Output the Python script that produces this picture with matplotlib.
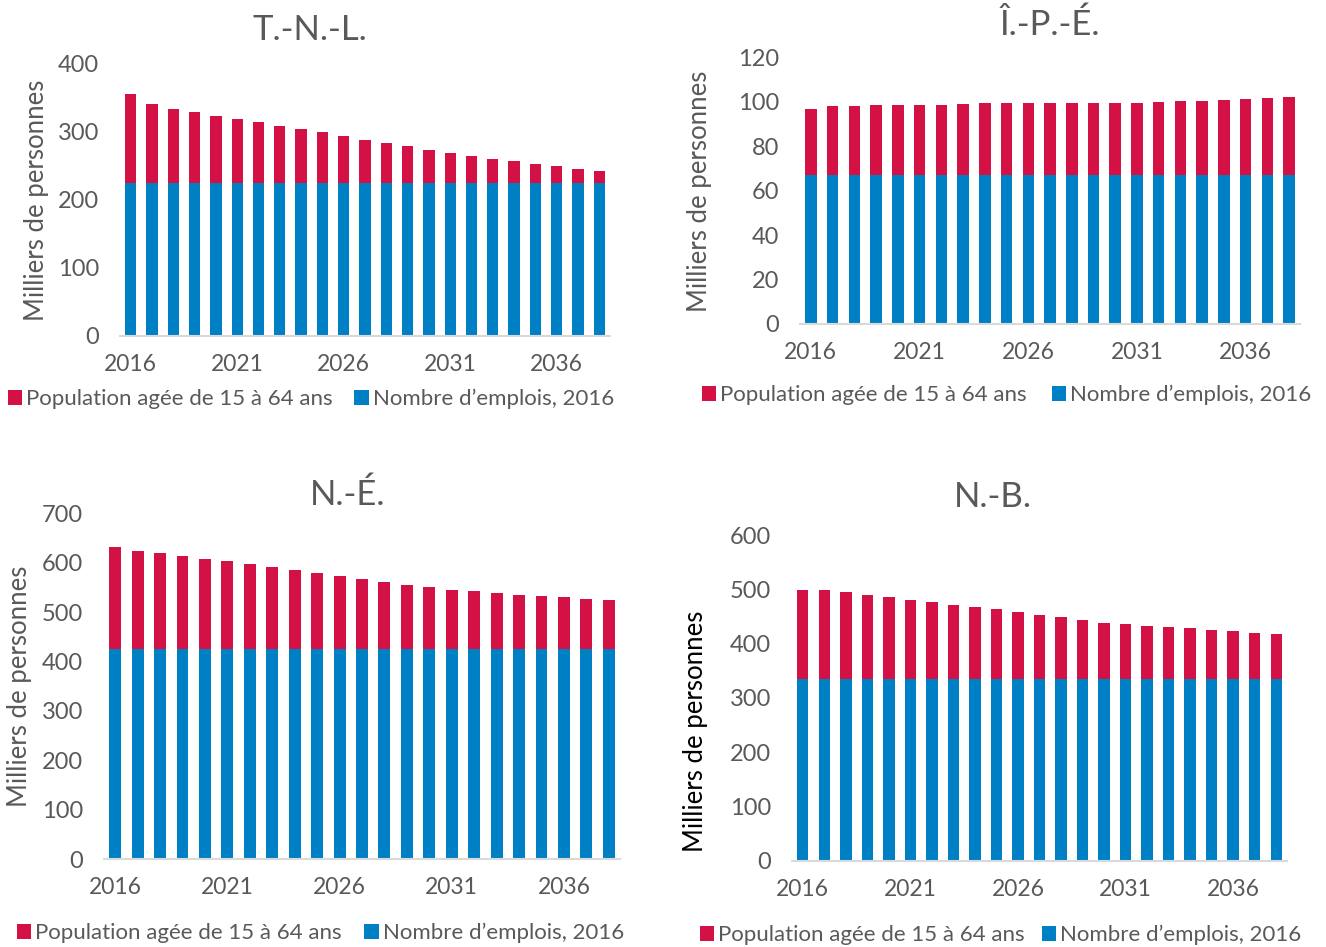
import numpy as np
import matplotlib
matplotlib.use("Agg")
from matplotlib import pyplot as plt

plt.rcParams['font.family'] = ['Lato', 'DejaVu Sans']

years = list(range(2016, 2039))
year_labels = ['2016', '2021', '2026', '2031', '2036']

# population agee de 15 a 64 ans (milliers)
pop_tnl = [354.5, 340.3, 333.3, 327.9, 323.0, 317.6, 313.2, 307.8, 302.9, 298.5, 293.2, 287.8,
           282.9, 278.2, 273.3, 268.4, 264.5, 260.1, 256.7, 252.3, 248.9, 245.0, 241.3]
pop_ipe = [96.8, 98.1, 98.1, 98.4, 98.6, 98.6, 98.7, 99.2, 99.3, 99.5, 99.5, 99.6,
           99.5, 99.3, 99.5, 99.6, 100.1, 100.4, 100.5, 101.0, 101.4, 101.7, 102.3]
pop_ne = [631.0, 624.2, 620.2, 614.1, 608.0, 603.2, 596.5, 590.4, 585.0, 578.9, 572.8, 566.7,
          561.3, 554.5, 549.8, 545.0, 542.3, 538.9, 535.5, 533.5, 530.1, 527.4, 525.4]
pop_nb = [497.8, 499.1, 494.2, 489.8, 484.9, 480.6, 475.7, 470.8, 467.1, 462.8, 457.8, 453.5,
          448.6, 443.7, 438.8, 436.3, 432.6, 430.8, 428.3, 425.8, 422.8, 420.3, 417.8]

# nombre d'emplois en 2016 (milliers)
jobs_tnl = 224.0
jobs_ipe = 67.1
jobs_ne = 424.5
jobs_nb = 335.4

RED = '#D31145'
BLUE = '#0080C4'
GREY = '#595959'

W, H = 1326, 947
fig = plt.figure(figsize=(W / 100, H / 100), dpi=100)


def px_axes(x0, x1, y_bottom, y_top):
    return fig.add_axes([x0 / W, 1 - y_bottom / H, (x1 - x0) / W, (y_bottom - y_top) / H])


def panel(box, pop, jobs, ymax, ystep, title, title_xy, ylab_xy, ylab_color, leg_xy, colsp):
    ax = px_axes(*box)
    x = np.arange(len(years))
    pop = np.array(pop)
    base = np.full(len(years), jobs)
    ax.bar(x, base, width=0.53, color=BLUE, label="Nombre d\u2019emplois, 2016", zorder=2)
    ax.bar(x, pop - base, bottom=base, width=0.53, color=RED,
           label='Population ag\u00e9e de 15 \u00e0 64 ans', zorder=2)
    ax.set_xlim(-0.5, len(years) - 0.5)
    ax.set_ylim(0, ymax)
    ax.set_yticks(np.arange(0, ymax + 1, ystep))
    ax.set_xticks([years.index(int(y)) for y in year_labels])
    ax.set_xticklabels(year_labels)
    for s in ['top', 'right', 'left']:
        ax.spines[s].set_visible(False)
    ax.spines['bottom'].set_color('#D9D9D9')
    ax.spines['bottom'].set_linewidth(1.5)
    ax.tick_params(axis='both', length=0, colors=GREY)
    ax.tick_params(axis='y', pad=15, labelsize=17)
    ax.tick_params(axis='x', pad=13, labelsize=16.5)
    fig.text(title_xy[0] / W, 1 - title_xy[1] / H, title, fontsize=25, color=GREY,
             ha='center', va='center')
    fig.text(ylab_xy[0] / W, 1 - ylab_xy[1] / H, 'Milliers de personnes', fontsize=18.5,
             color=ylab_color, rotation=90, ha='center', va='center')
    h, l = ax.get_legend_handles_labels()
    ax.legend(h[::-1], l[::-1], ncol=2, frameon=False, loc='center left',
              bbox_to_anchor=(leg_xy[0] / W, 1 - leg_xy[1] / H), bbox_transform=fig.transFigure,
              fontsize=16, labelcolor=GREY, handlelength=0.65, handleheight=0.65,
              handletextpad=0.18, columnspacing=colsp, borderaxespad=0, borderpad=0)
    return ax


panel((120, 610, 336, 63.3), pop_tnl, jobs_tnl, 400, 100, 'T.-N.-L.', (310, 30), (37, 200),
      GREY, (8, 399), 0.95)
panel((800, 1300, 324, 57.3), pop_ipe, jobs_ipe, 120, 20, '\u00ce.-P.-\u00c9.', (1050, 25),
      (700, 191), GREY, (702, 395), 1.1)
panel((104, 620, 859, 513.3), pop_ne, jobs_ne, 700, 100, 'N.-\u00c9.', (348, 495), (20, 686),
      GREY, (17, 933), 1.0)
panel((792, 1287, 860.7, 535), pop_nb, jobs_nb, 600, 100, 'N.-B.', (993, 497), (695, 731),
      'black', (700, 935), 0.75)

fig.savefig('out.png', dpi=100)
